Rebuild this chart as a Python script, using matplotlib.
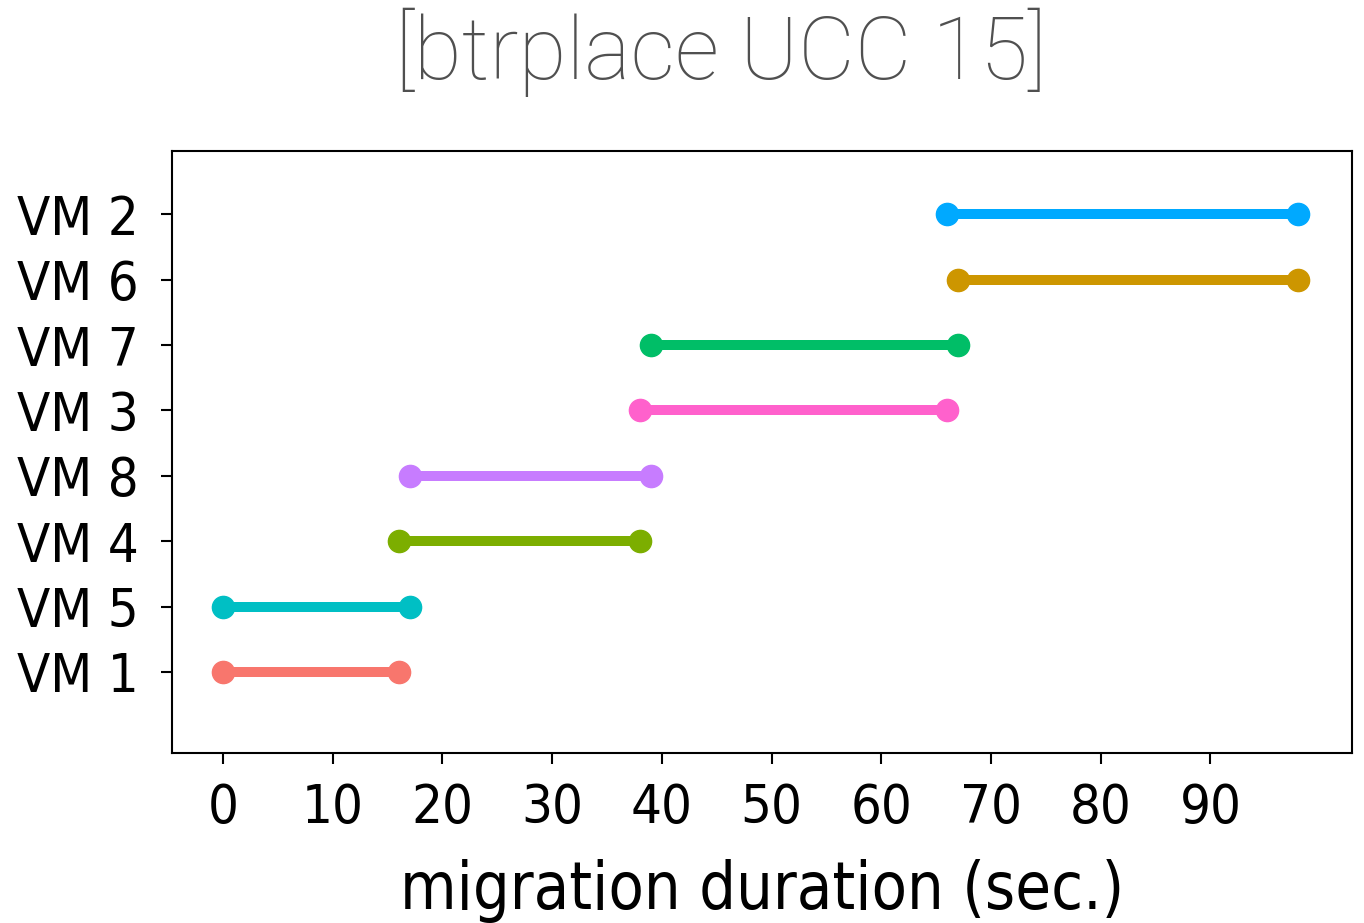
import numpy as np
import matplotlib.pyplot as plt

vms = ['VM 1', 'VM 5', 'VM 4', 'VM 8', 'VM 3', 'VM 7', 'VM 6', 'VM 2']
start = [0, 0, 16, 17, 38, 39, 67, 66]
end = [16, 17, 38, 39, 66, 67, 98, 98]
colors = ['#F8766D', '#00BFC4', '#7CAE00', '#C77CFF',
          '#FF61CC', '#00BE67', '#CD9600', '#00A9FF']

plt.rcParams['font.stretch'] = 'condensed'

fig = plt.figure(figsize=(13.64, 9.23), dpi=100)
ax = fig.add_axes([0.1261, 0.1842, 0.8651, 0.6522])

y = np.arange(len(vms))
for i in range(len(vms)):
    ax.plot([start[i], end[i]], [y[i], y[i]], color=colors[i], lw=7.2,
            marker='o', markersize=16, solid_capstyle='butt')

ax.set_xlim(-4.65, 102.9)
ax.set_ylim(-1.24, 7.97)
ax.set_xticks(np.arange(0, 100, 10))
ax.set_yticks(y)
ax.set_yticklabels(vms)
ax.tick_params(axis='both', labelsize=39, length=8, width=1.5)
ax.tick_params(axis='x', pad=13)
ax.tick_params(axis='y', pad=16)
for s in ax.spines.values():
    s.set_linewidth(1.5)
ax.set_xlabel('migration duration (sec.)', fontsize=46.5, labelpad=18)

fig.text(721 / 1364, 1 - 52 / 923, '[btrplace UCC 15]', fontsize=63,
         family='Roboto', fontweight='light', fontstretch='normal',
         color='#505050', ha='center', va='center')

fig.savefig('out.png', dpi=100)
